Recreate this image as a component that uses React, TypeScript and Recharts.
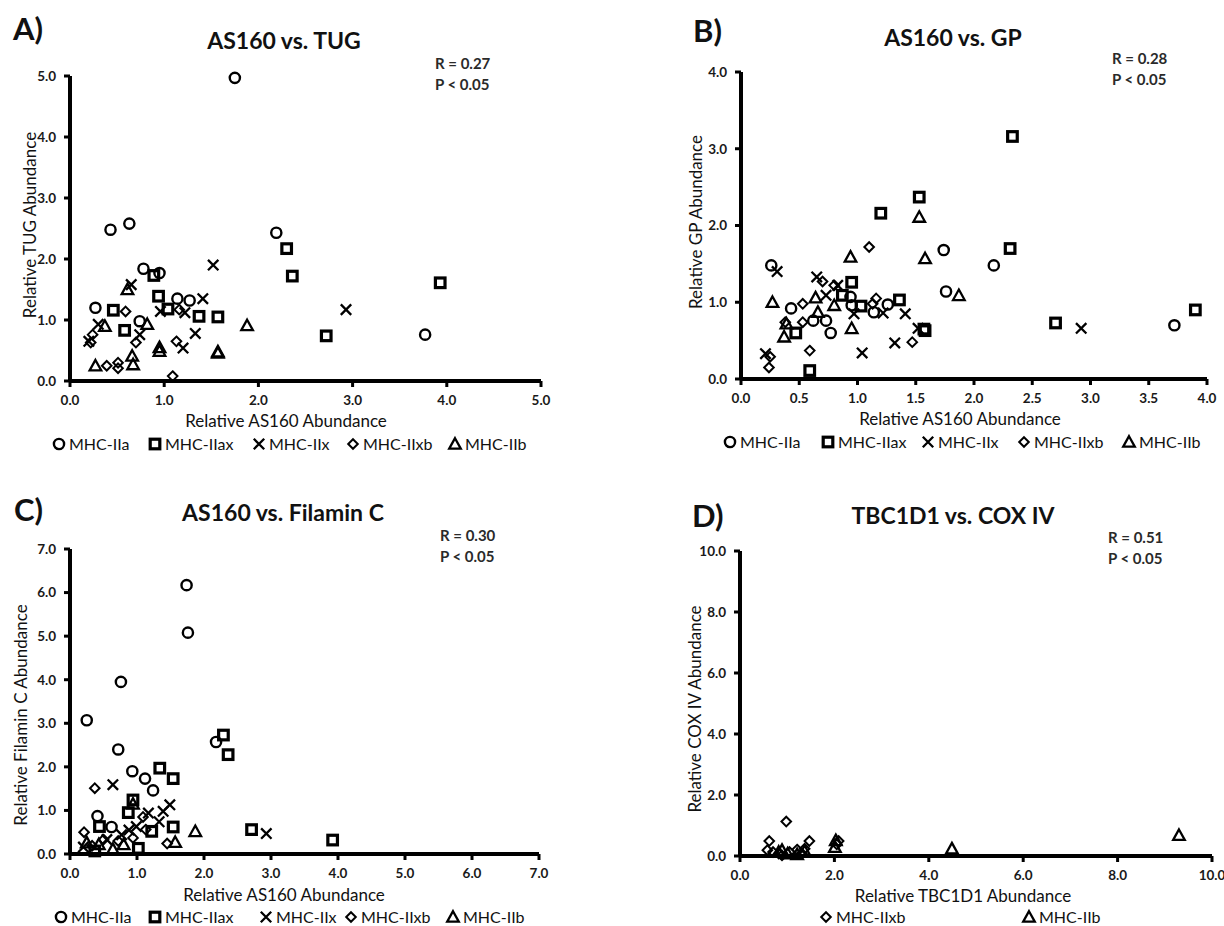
import React from "react";
import { ScatterChart, Scatter, XAxis, YAxis, ReferenceLine } from "recharts";

// ---- data ----
// A) AS160 vs. TUG
const aIIa = [[0.27, 1.2], [0.43, 2.48], [0.63, 2.58], [0.74, 0.98], [0.78, 1.84], [0.95, 1.77], [1.14, 1.35], [1.27, 1.32], [1.75, 4.97], [2.19, 2.43], [3.77, 0.76]];
const aIIax = [[0.46, 1.16], [0.58, 0.83], [0.89, 1.73], [0.94, 1.39], [1.04, 1.18], [1.37, 1.06], [1.57, 1.05], [2.3, 2.17], [2.36, 1.72], [2.72, 0.74], [3.93, 1.61]];
const aIIx = [[0.2, 0.65], [0.3, 0.93], [0.65, 1.58], [0.74, 0.76], [0.96, 1.14], [1.2, 0.54], [1.22, 1.12], [1.33, 0.78], [1.41, 1.35], [1.52, 1.9], [2.93, 1.17]];
const aIIxb = [[0.22, 0.63], [0.24, 0.76], [0.39, 0.25], [0.51, 0.3], [0.51, 0.21], [0.59, 1.14], [0.7, 0.63], [1.09, 0.08], [1.13, 0.65], [1.16, 1.17]];
const aIIb = [[0.27, 0.25], [0.37, 0.9], [0.61, 1.5], [0.66, 0.41], [0.67, 0.27], [0.82, 0.93], [0.95, 0.49], [0.95, 0.55], [1.57, 0.46], [1.57, 0.48], [1.88, 0.91]];

// B) AS160 vs. GP
const bIIa = [[0.26, 1.48], [0.43, 0.92], [0.62, 0.76], [0.73, 0.76], [0.77, 0.6], [0.94, 1.07], [0.95, 0.96], [1.14, 0.87], [1.26, 0.97], [1.74, 1.68], [1.76, 1.14], [2.17, 1.48], [3.72, 0.7]];
const bIIax = [[0.47, 0.6], [0.59, 0.11], [0.87, 1.09], [0.95, 1.26], [1.03, 0.95], [1.2, 2.16], [1.36, 1.03], [1.53, 2.37], [1.57, 0.65], [1.58, 0.63], [2.31, 1.7], [2.33, 3.16], [2.7, 0.73], [3.9, 0.9]];
const bIIx = [[0.21, 0.33], [0.31, 1.4], [0.65, 1.33], [0.73, 1.09], [0.83, 1.22], [0.97, 0.85], [1.04, 0.34], [1.22, 0.86], [1.32, 0.47], [1.41, 0.85], [1.52, 0.66], [2.92, 0.66]];
const bIIxb = [[0.24, 0.15], [0.25, 0.29], [0.38, 0.74], [0.53, 0.98], [0.53, 0.74], [0.59, 0.37], [0.7, 1.27], [0.8, 1.22], [1.1, 1.72], [1.13, 0.98], [1.16, 1.05], [1.47, 0.48]];
const bIIb = [[0.27, 1.0], [0.37, 0.55], [0.39, 0.72], [0.64, 1.06], [0.66, 0.87], [0.8, 0.96], [0.94, 1.59], [0.95, 0.66], [1.53, 2.11], [1.58, 1.57], [1.87, 1.09]];

// C) AS160 vs. Filamin C
const cIIa = [[0.25, 3.07], [0.41, 0.87], [0.62, 0.62], [0.72, 2.4], [0.76, 3.95], [0.93, 1.9], [1.12, 1.73], [1.24, 1.46], [1.74, 6.17], [1.76, 5.08], [2.18, 2.57]];
const cIIax = [[0.37, 0.07], [0.44, 0.63], [0.87, 0.95], [0.94, 1.24], [1.02, 0.13], [1.22, 0.52], [1.34, 1.97], [1.54, 1.73], [1.54, 0.62], [2.29, 2.73], [2.36, 2.28], [2.71, 0.56], [3.92, 0.32]];
const cIIx = [[0.2, 0.16], [0.55, 0.33], [0.64, 1.59], [0.77, 0.44], [0.88, 0.55], [0.99, 0.63], [1.17, 0.94], [1.33, 0.74], [1.39, 0.98], [1.49, 1.13], [2.93, 0.47]];
const cIIxb = [[0.21, 0.5], [0.33, 0.19], [0.37, 1.51], [0.5, 0.33], [0.72, 0.3], [0.94, 0.37], [1.09, 0.85], [1.13, 0.56], [1.45, 0.24]];
const cIIb = [[0.25, 0.26], [0.43, 0.22], [0.64, 0.11], [0.8, 0.22], [0.94, 1.15], [1.57, 0.27], [1.87, 0.52]];

// D) TBC1D1 vs. COX IV
const dIIxb = [[0.58, 0.19], [0.62, 0.49], [0.7, 0.13], [0.82, 0.08], [0.89, 0.02], [0.98, 1.13], [1.05, 0.13], [1.21, 0.21], [1.31, 0.08], [1.37, 0.24], [1.47, 0.49], [2.05, 0.38], [2.09, 0.49]];
const dIIb = [[0.82, 0.13], [0.89, 0.19], [1.01, 0.08], [1.21, 0.05], [1.37, 0.16], [2.01, 0.29], [2.03, 0.51], [4.49, 0.24], [9.3, 0.68]];

const ticks5 = [0, 1, 2, 3, 4, 5];
const ticks4 = [0, 1, 2, 3, 4];
const ticksHalf4 = [0, 0.5, 1, 1.5, 2, 2.5, 3, 3.5, 4];
const ticks7 = [0, 1, 2, 3, 4, 5, 6, 7];
const ticks10 = [0, 2, 4, 6, 8, 10];

const fiberTypes = ["MHC-IIa", "MHC-IIax", "MHC-IIx", "MHC-IIxb", "MHC-IIb"];

const toPts = (arr: number[][]) => arr.map(([x, y]) => ({ x, y }));

const FONT = "Lato, 'Open Sans', sans-serif";
const ink = "#000";

// marker shapes
const CircleMark = (p: any) => (
  <circle cx={p.cx} cy={p.cy} r={5.1} fill="none" stroke={ink} strokeWidth={2.4} />
);
const SquareMark = (p: any) => (
  <rect x={p.cx - 4.8} y={p.cy - 4.8} width={9.6} height={9.6} fill="none" stroke={ink} strokeWidth={3.2} />
);
const CrossMark = (p: any) => (
  <path
    d={`M${p.cx - 5.2},${p.cy - 5.2}L${p.cx + 5.2},${p.cy + 5.2}M${p.cx + 5.2},${p.cy - 5.2}L${p.cx - 5.2},${p.cy + 5.2}`}
    fill="none"
    stroke={ink}
    strokeWidth={2.3}
  />
);
const DiamondMark = (p: any) => (
  <path
    d={`M${p.cx},${p.cy - 4.8}L${p.cx + 4.8},${p.cy}L${p.cx},${p.cy + 4.8}L${p.cx - 4.8},${p.cy}Z`}
    fill="none"
    stroke={ink}
    strokeWidth={2}
  />
);
const TriangleMark = (p: any) => (
  <path
    d={`M${p.cx},${p.cy - 5.8}L${p.cx + 5.8},${p.cy + 4.7}L${p.cx - 5.8},${p.cy + 4.7}Z`}
    fill="none"
    stroke={ink}
    strokeWidth={2.3}
  />
);

const marks: Record<string, (p: any) => React.ReactElement> = {
  "MHC-IIa": CircleMark,
  "MHC-IIax": SquareMark,
  "MHC-IIx": CrossMark,
  "MHC-IIxb": DiamondMark,
  "MHC-IIb": TriangleMark,
};

const fmt = (v: number) => v.toFixed(1);
const tickStyle = { fontSize: 13.5, fontWeight: 700, fill: "#1a1a1a", fontFamily: FONT };

type Series = { name: string; data: number[][] };

function Panel({
  plot,
  xMax,
  xTicks,
  yMax,
  yTicks,
  series,
}: {
  plot: { l: number; t: number; r: number; b: number };
  xMax: number;
  xTicks: number[];
  yMax: number;
  yTicks: number[];
  series: Series[];
}) {
  const { l, t, r, b } = plot;
  return (
    <div style={{ position: "absolute", left: l - 70, top: t - 15 }}>
      <ScatterChart
        width={r - l + 100}
        height={b - t + 60}
        margin={{ top: 15, right: 30, bottom: 0, left: 20 }}
      >
        <XAxis
          type="number"
          dataKey="x"
          domain={[0, xMax]}
          ticks={xTicks}
          interval={0}
          height={45}
          tickFormatter={fmt}
          stroke={ink}
          strokeWidth={3}
          axisLine={{ stroke: ink, strokeWidth: 4 }}
          tickLine={{ stroke: ink, strokeWidth: 3 }}
          tickSize={6}
          tickMargin={8}
          tick={tickStyle}
        />
        <YAxis
          type="number"
          dataKey="y"
          domain={[0, yMax]}
          ticks={yTicks}
          interval={0}
          width={50}
          tickFormatter={fmt}
          stroke={ink}
          strokeWidth={3}
          axisLine={{ stroke: ink, strokeWidth: 4 }}
          tickLine={{ stroke: ink, strokeWidth: 3 }}
          tickSize={6}
          tickMargin={8}
          tick={tickStyle}
        />
        <ReferenceLine x={0} stroke={ink} strokeWidth={4} />
        <ReferenceLine y={0} stroke={ink} strokeWidth={4} />
        {series.map((s) => (
          <Scatter
            key={s.name}
            name={s.name}
            data={toPts(s.data)}
            shape={marks[s.name]}
            isAnimationActive={false}
          />
        ))}
      </ScatterChart>
    </div>
  );
}

const abs = (x: number, y: number, extra: React.CSSProperties = {}): React.CSSProperties => ({
  position: "absolute",
  left: x,
  top: y,
  whiteSpace: "nowrap",
  fontFamily: FONT,
  color: "#111",
  ...extra,
});

function Centered({ x, y, size, weight = 400, rotate = false, children }: any) {
  return (
    <div
      style={abs(x, y, {
        fontSize: size,
        fontWeight: weight,
        lineHeight: 1,
        transform: `translate(-50%, -50%)${rotate ? " rotate(-90deg)" : ""}`,
      })}
    >
      {children}
    </div>
  );
}

function Stats({ x, y, r }: { x: number; y: number; r: string }) {
  return (
    <div style={abs(x, y - 9, { fontSize: 15, fontWeight: 700, lineHeight: "21px", color: "#2a2a2a" })}>
      <div>R = {r}</div>
      <div>P &lt; 0.05</div>
    </div>
  );
}

function Legend({ y, items }: { y: number; items: { name: string; x: number }[] }) {
  return (
    <>
      {items.map((it) => {
        const Mark = marks[it.name];
        return (
          <div key={it.name} style={abs(it.x - 7, y - 8, { height: 16, display: "flex", alignItems: "center" })}>
            <svg width={14} height={16} style={{ overflow: "visible" }}>
              <Mark cx={7} cy={8} />
            </svg>
            <span style={{ fontSize: 16, lineHeight: "16px", marginLeft: 3, color: "#111" }}>{it.name}</span>
          </div>
        );
      })}
    </>
  );
}

export default function App() {
  const mk = (arrs: number[][][]) => arrs.map((data, i) => ({ name: fiberTypes[i], data }));
  return (
    <div
      style={{
        position: "absolute",
        left: 0,
        top: 0,
        width: 1224,
        height: 926,
        overflow: "hidden",
        background: "#fff",
      }}
    >
      {/* A */}
      <Panel plot={{ l: 70, t: 76, r: 541, b: 381 }} xMax={5} xTicks={ticks5} yMax={5} yTicks={ticks5}
        series={mk([aIIa, aIIax, aIIx, aIIxb, aIIb])} />
      <div style={abs(13, 13, { fontSize: 31, fontWeight: 700, lineHeight: 1 })}>A)</div>
      <Centered x={284} y={40} size={23} weight={700}>AS160 vs. TUG</Centered>
      <Stats x={435} y={62} r="0.27" />
      <Centered x={29} y={225} size={17} rotate>Relative TUG Abundance</Centered>
      <Centered x={286} y={420} size={17}>Relative AS160 Abundance</Centered>
      <Legend y={444} items={[{ name: "MHC-IIa", x: 59 }, { name: "MHC-IIax", x: 155 }, { name: "MHC-IIx", x: 259 }, { name: "MHC-IIxb", x: 353 }, { name: "MHC-IIb", x: 455 }]} />

      {/* B */}
      <Panel plot={{ l: 741, t: 72, r: 1207, b: 379 }} xMax={4} xTicks={ticksHalf4} yMax={4} yTicks={ticks4}
        series={mk([bIIa, bIIax, bIIx, bIIxb, bIIb])} />
      <div style={abs(693, 15, { fontSize: 31, fontWeight: 700, lineHeight: 1 })}>B)</div>
      <Centered x={953} y={37} size={23} weight={700}>AS160 vs. GP</Centered>
      <Stats x={1112} y={57} r="0.28" />
      <Centered x={695} y={222} size={17} rotate>Relative GP Abundance</Centered>
      <Centered x={960} y={418} size={17}>Relative AS160 Abundance</Centered>
      <Legend y={442} items={[{ name: "MHC-IIa", x: 730 }, { name: "MHC-IIax", x: 828 }, { name: "MHC-IIx", x: 928 }, { name: "MHC-IIxb", x: 1024 }, { name: "MHC-IIb", x: 1129 }]} />

      {/* C */}
      <Panel plot={{ l: 70, t: 549, r: 539, b: 854 }} xMax={7} xTicks={ticks7} yMax={7} yTicks={ticks7}
        series={mk([cIIa, cIIax, cIIx, cIIxb, cIIb])} />
      <div style={abs(14, 494, { fontSize: 31, fontWeight: 700, lineHeight: 1 })}>C)</div>
      <Centered x={283} y={512} size={23} weight={700}>AS160 vs. Filamin C</Centered>
      <Stats x={440} y={534} r="0.30" />
      <Centered x={20} y={715} size={17} rotate>Relative Filamin C Abundance</Centered>
      <Centered x={284} y={894} size={17}>Relative AS160 Abundance</Centered>
      <Legend y={917} items={[{ name: "MHC-IIa", x: 61 }, { name: "MHC-IIax", x: 155 }, { name: "MHC-IIx", x: 266 }, { name: "MHC-IIxb", x: 351 }, { name: "MHC-IIb", x: 453 }]} />

      {/* D */}
      <Panel plot={{ l: 740, t: 551, r: 1212, b: 856 }} xMax={10} xTicks={ticks10} yMax={10} yTicks={ticks10}
        series={[{ name: "MHC-IIxb", data: dIIxb }, { name: "MHC-IIb", data: dIIb }]} />
      <div style={abs(692, 500, { fontSize: 31, fontWeight: 700, lineHeight: 1 })}>D)</div>
      <Centered x={953} y={515} size={23} weight={700}>TBC1D1 vs. COX IV</Centered>
      <Stats x={1108} y={536} r="0.51" />
      <Centered x={694} y={709} size={17} rotate>Relative COX IV Abundance</Centered>
      <Centered x={963} y={895} size={17}>Relative TBC1D1 Abundance</Centered>
      <Legend y={917} items={[{ name: "MHC-IIxb", x: 826 }, { name: "MHC-IIb", x: 1029 }]} />
    </div>
  );
}
